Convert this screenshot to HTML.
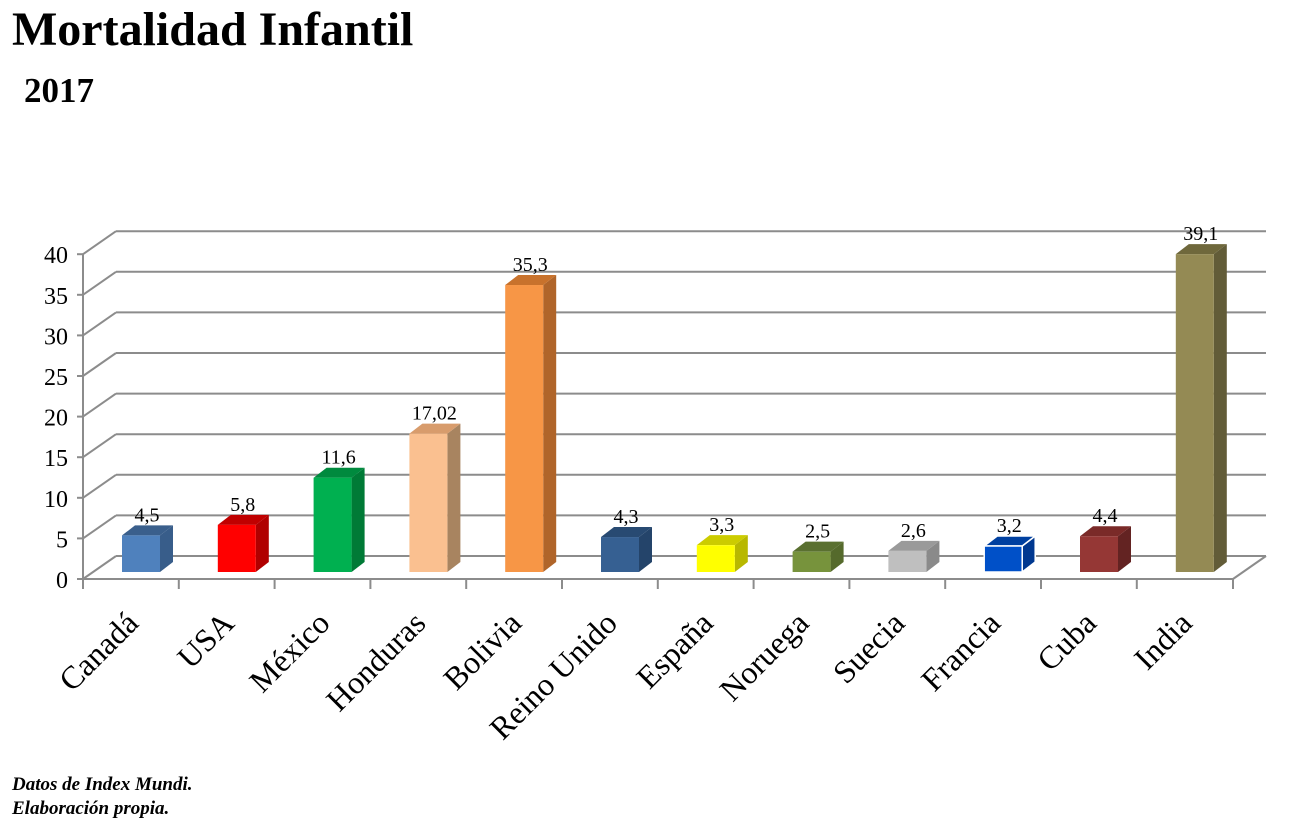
<!DOCTYPE html>
<html><head><meta charset="utf-8"><style>
html,body{margin:0;padding:0;background:#fff;}
svg{display:block;font-family:"Liberation Serif",serif;}
</style></head><body>
<svg width="1299" height="831" viewBox="0 0 1299 831" xmlns="http://www.w3.org/2000/svg">
<text x="12" y="45" font-size="48" font-weight="bold">Mortalidad Infantil</text>
<text x="24" y="102" font-size="35" font-weight="bold">2017</text>
<g stroke="#8c8c8c" stroke-width="2" fill="none">
<line x1="83" y1="254" x2="83" y2="579"/>
<line x1="83" y1="579" x2="1233" y2="579"/>
<line x1="1233" y1="579" x2="1266" y2="556"/>
<line x1="1233" y1="579" x2="1233" y2="589"/>
</g>
<g stroke="#8c8c8c" stroke-width="2" fill="none" id="grid"></g>
<g id="bars"></g>
<g id="labels" font-size="32"></g>
<text x="12" y="790" font-size="19" font-weight="bold" font-style="italic">Datos de Index Mundi.</text>
<text x="12" y="814" font-size="19" font-weight="bold" font-style="italic">Elaboración propia.</text>
<script>
var NS="http://www.w3.org/2000/svg";
function el(p,t,a,txt){var e=document.createElementNS(NS,t);for(var k in a)e.setAttribute(k,a[k]);if(txt!=null)e.textContent=txt;p.appendChild(e);return e;}
var g=document.getElementById("grid");
var svg=document.querySelector("svg");
for(var i=0;i<=8;i++){var y=579-i*40.6;
 el(g,"line",{x1:83,y1:y,x2:116,y2:y-23});
 el(g,"line",{x1:116,y1:y-23,x2:1266,y2:y-23});
 el(g,"line",{x1:77,y1:y,x2:83,y2:y});
 el(svg,"text",{x:68,y:y+9,"font-size":24,"text-anchor":"end"},String(i*5));
}
for(var i=0;i<12;i++){el(g,"line",{x1:83+95.8*i,y1:579,x2:83+95.8*i,y2:589});}
var d=[["Canadá",4.5,"4,5","#4f81bd","#3a5f8c","#385d8a"],["USA",5.8,"5,8","#ff0000","#c00000","#b00000"],["México",11.6,"11,6","#00b050","#008a3e","#007a36"],["Honduras",17.02,"17,02","#fac090","#d89c6c","#a88460"],["Bolivia",35.3,"35,3","#f79646","#c8722c","#b0652a"],["Reino Unido",4.3,"4,3","#366092","#284a72","#24446a"],["España",3.3,"3,3","#ffff00","#cccc00","#b8b800"],["Noruega",2.5,"2,5","#77933c","#5a7030","#556a2c"],["Suecia",2.6,"2,6","#bfbfbf","#9a9a9a","#8a8a8a"],["Francia",3.2,"3,2","#0050c8","#0040a0","#003890"],["Cuba",4.4,"4,4","#953735","#7a2a28","#632322"],["India",39.1,"39,1","#948a54","#6f683c","#625c38"]];
var b=document.getElementById("bars"),L=document.getElementById("labels");
d.forEach(function(r,i){
 var x=83+95.8*i+39,w=38,by=572,h=r[1]*8.13,ty=by-h,dx=13,dy=-10;
 var st=(r[0]=="Francia")?{stroke:"#fff","stroke-width":1.5}:{};
 function a(o){for(var k in st)o[k]=st[k];return o;}
 el(b,"polygon",a({points:(x+w)+","+by+" "+(x+w+dx)+","+(by+dy)+" "+(x+w+dx)+","+(ty+dy)+" "+(x+w)+","+ty,fill:r[5]}));
 el(b,"polygon",a({points:x+","+ty+" "+(x+dx)+","+(ty+dy)+" "+(x+w+dx)+","+(ty+dy)+" "+(x+w)+","+ty,fill:r[4]}));
 el(b,"rect",a({x:x,y:ty,width:w,height:h,fill:r[3]}));
 el(b,"text",{x:x+w/2+6,y:ty+dy-4,"font-size":20,"text-anchor":"middle"},r[2]);
 var cx=83+95.8*i+57,cy=625;
 el(L,"text",{x:cx,y:cy,"text-anchor":"end",transform:"rotate(-45 "+cx+" "+cy+")"},r[0]);
});
</script>
</svg>
</body></html>
